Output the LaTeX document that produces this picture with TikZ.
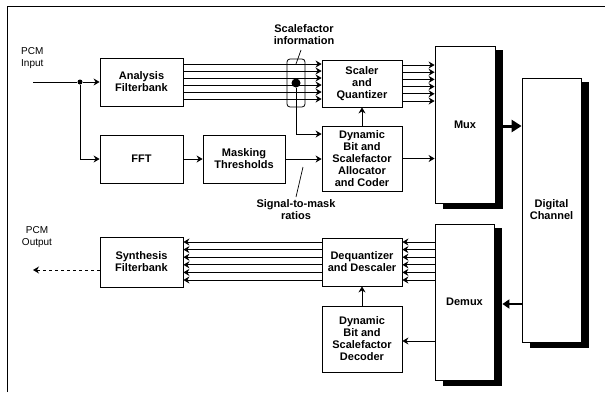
\documentclass[tikz,border=0pt]{standalone}
\usepackage{fontspec}
\setmainfont{Liberation Sans}
\usetikzlibrary{arrows.meta}
\begin{document}
\begin{tikzpicture}[x=1pt,y=-1pt,
  blk/.style={draw, line width=0.8pt, inner sep=0pt, align=center, font=\fontsize{11}{12}\selectfont\bfseries},
  txt/.style={inner sep=0pt, align=center, font=\fontsize{11}{12}\selectfont\bfseries},
  lab/.style={inner sep=0pt, font=\fontsize{10}{12}\selectfont},
  arr/.style={-{Stealth[length=6pt,width=7pt]}, line width=0.9pt},
  sig/.style={line width=0.9pt},
  shadow/.style={fill=black}
]
\useasboundingbox (0,0) rectangle (605,399);
\draw[line width=1pt] (7,392) -- (7,6) -- (605,6);

% blocks
\node[blk, minimum width=83pt, minimum height=48pt] (ana) at (141.5,82) {Analysis\\Filterbank};
\node[blk, minimum width=83pt, minimum height=48pt] (fft) at (141.5,159) {FFT};
\node[blk, minimum width=82pt, minimum height=48pt] (mask) at (244,159) {Masking\\Thresholds};
\node[blk, minimum width=80pt, minimum height=47pt] (sq) at (362,83.5) {Scaler\\and\\Quantizer};
\node[blk, minimum width=80pt, minimum height=65pt] (dba) at (362,158.5) {Dynamic\\Bit and\\Scalefactor\\Allocator\\and Coder};
\node[blk, minimum width=83pt, minimum height=50pt] (syn) at (141.5,262) {Synthesis\\Filterbank};
\node[blk, minimum width=80pt, minimum height=48pt] (deq) at (362,262) {Dequantizer\\and Descaler};
\node[blk, minimum width=80pt, minimum height=66pt] (dec) at (362,339) {Dynamic\\Bit and\\Scalefactor\\Decoder};

% mux / demux / channel with shadows
\node[blk, minimum width=60pt, minimum height=157pt] (mux) at (465,124.5) {Mux};
\node[blk, minimum width=59pt, minimum height=264pt] (dc) at (551.5,210) {Digital\\Channel};
\node[blk, minimum width=59pt, minimum height=156pt] (demux) at (464.5,302) {Demux};
\foreach \n in {mux,dc,demux}{
  \fill[shadow] ([yshift=-4pt]\n.north east) rectangle ([xshift=8pt,yshift=-6pt]\n.south east);
  \fill[shadow] ([xshift=8pt]\n.south west) rectangle ([xshift=8pt,yshift=-6pt]\n.south east);
}
\coordinate (muxsh) at ([xshift=8pt]mux.east);
\coordinate (dmxsh) at ([xshift=8pt]demux.east);

% PCM input
\node[lab, align=left, anchor=west] (pcmin) at (21,58) {PCM\\Input};
\coordinate (pin) at (33,82);
\node[circle, fill, inner sep=0pt, minimum size=5pt] (jn) at (80,82) {};
\draw[sig] (pin) -- (jn);
\draw[arr] (jn) -- (ana.west);
\draw[arr] (jn) |- (fft.west);
\draw[arr] (fft.east) -- (mask.west);

% analysis -> scaler (6 subbands)
\foreach \i in {0,...,5}{
  \pgfmathsetmacro{\yy}{64+7*\i}
  \draw[arr] (ana.east |- 0,\yy) -- (sq.west |- 0,\yy);
}

% scalefactor information
\node[draw, line width=0.8pt, rounded corners=3pt, minimum width=18pt, minimum height=48pt, inner sep=0pt] (sfbox) at (296,83) {};
\node[circle, fill, inner sep=0pt, minimum size=9pt] (dot) at (296,83) {};
\draw[arr] (dot) |- (dba.west |- 0,134);
\node[txt] (sfl) at (304,35) {Scalefactor\\information};
\coordinate (sfa) at (301,50);
\coordinate (sfb) at (296,64);
\draw[line width=0.7pt] (sfa) -- (sfb);

% masking -> allocator
\draw[arr] (mask.east) -- (dba.west |- mask.east);
\node[txt] (smr) at (296,210) {Signal-to-mask\\ratios};
\coordinate (sma) at (296,197);
\coordinate (smb) at (303,167);
\draw[line width=0.7pt] (sma) -- (smb);

\draw[arr] (dba.north) -- (sq.south);
\draw[arr] (dba.east) -- (mux.west |- dba.east);

% scaler -> mux
\foreach \i in {0,...,5}{
  \pgfmathsetmacro{\yy}{65+7.2*\i}
  \draw[arr] (sq.east |- 0,\yy) -- (mux.west |- 0,\yy);
}

% mux -> channel -> demux
\draw[line width=3pt, -{Triangle[length=10pt,width=12pt]}] (muxsh |- 0,126) -- (dc.west |- 0,126);
\draw[line width=2pt, -{Triangle[length=7pt,width=9pt]}] (dc.west |- 0,304) -- (dmxsh |- 0,304);

% demux -> dequantizer -> synthesis
\foreach \i in {0,...,5}{
  \pgfmathsetmacro{\yy}{242+7.6*\i}
  \draw[arr] (demux.west |- 0,\yy) -- (deq.east |- 0,\yy);
  \draw[arr] (deq.west |- 0,\yy) -- (syn.east |- 0,\yy);
}
\draw[arr] (demux.west |- 0,341) -- (dec.east |- 0,341);
\draw[arr] (dec.north) -- (deq.south);

% PCM output
\node[lab, align=center] (pcmout) at (37,237) {PCM\\Output};
\coordinate (pout) at (33,270);
\draw[arr, dashed] (syn.west |- 0,270) -- (pout);
\end{tikzpicture}
\end{document}
